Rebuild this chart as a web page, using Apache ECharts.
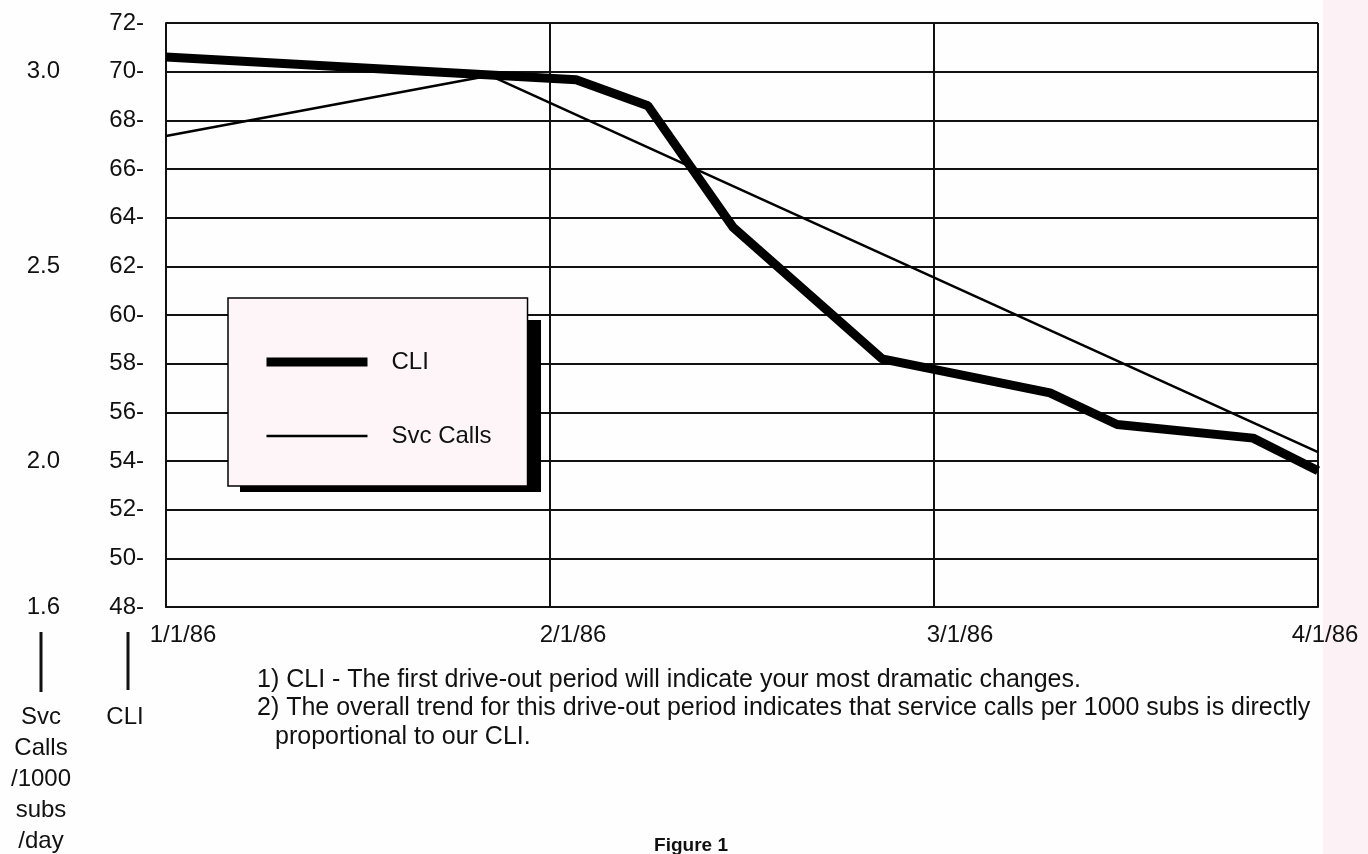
<!DOCTYPE html>
<html>
<head>
<meta charset="utf-8">
<script src="https://cdn.jsdelivr.net/npm/echarts@6/dist/echarts.min.js"></script>
<style>
html,body{margin:0;padding:0;background:#fefefe;}
#chart{width:1368px;height:854px;}
</style>
</head>
<body>
<div id="chart"></div>
<script>
// ---- data ----
const xTickLabels = ['1/1/86', '2/1/86', '3/1/86', '4/1/86'];
// positions along the x axis in months after 1/1/86
const cliMonths = [0, 1.068, 1.255, 1.477, 1.865, 2.302, 2.477, 2.831, 3.0];
const cliValues = [70.6, 69.67, 68.6, 63.6, 58.2, 56.8, 55.5, 54.94, 53.6];
const svcMonths = [0, 0.844, 1.992, 3.0];
const svcValues = [2.835, 2.99, 2.475, 2.023];
const svcTickLabels = {'1.625': '1.6', '2': '2.0', '2.5': '2.5', '3': '3.0'};
const notes = [
  '1) CLI - The first drive-out period will indicate your most dramatic changes.',
  '2) The overall trend for this drive-out period indicates that service calls per 1000 subs is directly',
  'proportional to our CLI.'
];

const FONT = '"Liberation Sans", Arial, Helvetica, sans-serif';
const chart = echarts.init(document.getElementById('chart'));

const cliData = cliMonths.map((m, i) => [m, cliValues[i]]);
const svcData = svcMonths.map((m, i) => [m, svcValues[i]]);

const lineCol = '#111';
const pads = [34, 46, 52, 14];
const rich = {};
pads.forEach((p, i) => { rich['l' + i] = {padding: [0, 0, 0, p], fontSize: 24, fontFamily: FONT, color: '#111'}; });

chart.setOption({
  backgroundColor: '#fefefe',
  animation: false,
  grid: {left: 166, right: 50, top: 23, bottom: 247},
  legend: {
    left: 228, top: 298,
    orient: 'vertical',
    data: [
      {name: 'CLI', lineStyle: {width: 9, color: '#000'}, itemStyle: {color: 'rgba(0,0,0,0)', borderWidth: 0}},
      {name: 'Svc Calls', lineStyle: {width: 2.5, color: '#000'}, itemStyle: {color: 'rgba(0,0,0,0)', borderWidth: 0}}
    ],
    itemWidth: 101, itemHeight: 22, itemGap: 50,
    padding: [52, 36, 38, 34],
    backgroundColor: '#fdf5f7',
    borderColor: '#000', borderWidth: 1.5,
    itemStyle: {color: 'rgba(0,0,0,0)', borderWidth: 0},
    textStyle: {fontSize: 24, fontFamily: FONT, color: '#111', padding: [0, 0, 0, 19]},
    selectedMode: false
  },
  xAxis: {
    type: 'value', min: 0, max: 3, interval: 1,
    axisLine: {show: true, lineStyle: {color: lineCol, width: 2}},
    axisTick: {show: false},
    splitLine: {show: true, lineStyle: {color: lineCol, width: 2}},
    axisLabel: {
      margin: 16,
      formatter: v => { const i = Math.round(v); return '{l' + i + '|' + xTickLabels[i] + '}'; },
      rich: rich
    }
  },
  yAxis: [{
    type: 'value', min: 48, max: 72, interval: 2,
    axisLine: {show: true, lineStyle: {color: lineCol, width: 2}},
    axisTick: {show: false},
    splitLine: {show: true, lineStyle: {color: lineCol, width: 2}},
    axisLabel: {margin: 22, fontSize: 24, fontFamily: FONT, color: '#111', formatter: v => v + '-'}
  }, {
    type: 'value', position: 'left', offset: 98,
    min: 1.625, max: 3.125, interval: 0.125,
    axisLine: {show: false}, axisTick: {show: false}, splitLine: {show: false},
    axisLabel: {margin: 8, fontSize: 24, fontFamily: FONT, color: '#111',
      formatter: v => svcTickLabels[String(+v.toFixed(3))] || ''}
  }],
  series: [{
    name: 'CLI', type: 'line', data: cliData, symbol: 'none', z: 4,
    lineStyle: {color: '#000', width: 9, join: 'bevel'},
    itemStyle: {color: '#000'}
  }, {
    name: 'Svc Calls', type: 'line', yAxisIndex: 1, data: svcData, symbol: 'none', z: 3,
    lineStyle: {color: '#000', width: 2.5},
    itemStyle: {color: '#000'}
  }],
  graphic: [
    {type: 'rect', left: 1323, top: 0, shape: {width: 45, height: 854}, style: {fill: '#fcf1f4'}, z: -10, silent: true},
    {type: 'rect', x: 240, y: 320, shape: {width: 301, height: 172}, style: {fill: '#000'}, z: 3, silent: true},
    {type: 'line', shape: {x1: 41, y1: 632, x2: 41, y2: 692}, style: {stroke: '#111', lineWidth: 3}},
    {type: 'line', shape: {x1: 128, y1: 632, x2: 128, y2: 690}, style: {stroke: '#111', lineWidth: 3}},
    {type: 'text', x: 41, y: 702, style: {text: 'Svc\nCalls\n/1000\nsubs\n/day', align: 'center', verticalAlign: 'top', fontSize: 24, lineHeight: 31, fontFamily: FONT, fill: '#111'}},
    {type: 'text', x: 125, y: 717, style: {text: 'CLI', align: 'center', verticalAlign: 'middle', fontSize: 24, fontFamily: FONT, fill: '#111'}},
    {type: 'text', x: 257, y: 680, style: {text: notes[0], verticalAlign: 'middle', fontSize: 25, fontFamily: FONT, fill: '#111'}},
    {type: 'text', x: 257, y: 708, style: {text: notes[1], verticalAlign: 'middle', fontSize: 25, fontFamily: FONT, fill: '#111'}},
    {type: 'text', x: 275, y: 737, style: {text: notes[2], verticalAlign: 'middle', fontSize: 25, fontFamily: FONT, fill: '#111'}},
    {type: 'text', x: 691, y: 846, style: {text: 'Figure 1', align: 'center', verticalAlign: 'middle', fontSize: 19, fontWeight: 'bold', fontFamily: FONT, fill: '#111'}}
  ]
});
</script>
</body>
</html>
